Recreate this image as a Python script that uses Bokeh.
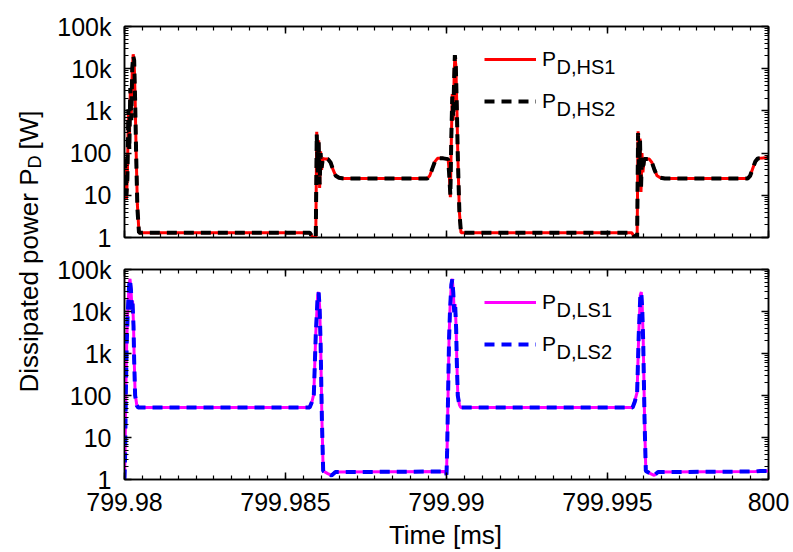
import numpy as np
from bokeh.plotting import figure
from bokeh.models import (FixedTicker, CustomJSTickFormatter, LinearAxis, LogAxis,
                          Legend, LegendItem, Label, Range1d)
from bokeh.layouts import row, column
from bokeh.embed import file_html
from bokeh.resources import INLINE

FONT = "Liberation Sans"

# ---------------- data ----------------
# Time in ms
t_hs1 = [799.98000, 799.98003, 799.98006, 799.98009, 799.98012, 799.98015, 799.98018, 799.98021,
         799.98024, 799.98027, 799.98030, 799.98033, 799.98036, 799.98040, 799.98045, 799.98575,
         799.98585, 799.98594, 799.98597, 799.98600, 799.98603, 799.98606, 799.98609, 799.98612,
         799.98616, 799.98622, 799.98632, 799.98640, 799.98648, 799.98656, 799.98666, 799.98680,
         799.98940, 799.98948, 799.98956, 799.98964, 799.98972, 799.98990, 799.99005, 799.99008,
         799.99012, 799.99015, 799.99018, 799.99021, 799.99024, 799.99026, 799.99029, 799.99032,
         799.99035, 799.99040, 799.99045, 799.99575, 799.99585, 799.99592, 799.99595, 799.99598,
         799.99601, 799.99604, 799.99607, 799.99610, 799.99614, 799.99620, 799.99630, 799.99638,
         799.99646, 799.99654, 799.99664, 799.99678, 799.99935, 799.99943, 799.99951, 799.99959,
         799.99967, 800.00000]
p_hs1 = [75, 45, 8, 30, 900, 150, 3000, 700,
         9000, 22000, 15000, 2000, 120, 6, 1.3, 1.3,
         1.0, 1.0, 320, 30, 200, 15, 110, 40,
         75, 72, 72, 60, 40, 29, 26, 25,
         25, 29, 43, 63, 75, 75, 72, 40,
         9, 200, 2500, 600, 8000, 20000, 12000, 1500,
         100, 4, 1.3, 1.3, 1.0, 1.0, 330, 25,
         220, 12, 100, 35, 75, 72, 72, 60,
         40, 29, 26, 25, 25, 29, 43, 63,
         75, 78]

t_hs2 = [799.98000, 799.98003, 799.98006, 799.98009, 799.98012, 799.98015, 799.98018, 799.98021,
         799.98024, 799.98027, 799.98030, 799.98033, 799.98036, 799.98040, 799.98045, 799.98575,
         799.98585, 799.98594, 799.98597, 799.98600, 799.98603, 799.98606, 799.98609, 799.98612,
         799.98616, 799.98622, 799.98632, 799.98640, 799.98648, 799.98656, 799.98666, 799.98680,
         799.98940, 799.98948, 799.98956, 799.98964, 799.98972, 799.98990, 799.99005, 799.99008,
         799.99012, 799.99015, 799.99018, 799.99021, 799.99024, 799.99026, 799.99029, 799.99032,
         799.99035, 799.99040, 799.99045, 799.99575, 799.99585, 799.99592, 799.99595, 799.99598,
         799.99601, 799.99604, 799.99607, 799.99610, 799.99614, 799.99620, 799.99630, 799.99638,
         799.99646, 799.99654, 799.99664, 799.99678, 799.99935, 799.99943, 799.99951, 799.99959,
         799.99967, 800.00000]
p_hs2 = [75, 40, 10, 25, 1100, 120, 3500, 600,
         10000, 20000, 16000, 1800, 110, 5, 1.3, 1.3,
         1.0, 1.0, 280, 35, 180, 18, 100, 45,
         72, 72, 72, 60, 40, 29, 26, 25,
         25, 29, 43, 63, 75, 75, 72, 35,
         10, 250, 2200, 700, 7000, 21000, 11000, 1300,
         90, 4, 1.3, 1.3, 1.0, 1.0, 300, 30,
         200, 14, 90, 40, 72, 72, 72, 60,
         40, 29, 26, 25, 25, 29, 43, 63,
         75, 78]

t_ls1 = [799.98000, 799.98002, 799.98004, 799.98007, 799.98010, 799.98014, 799.98017, 799.98020,
         799.98023, 799.98025, 799.98028, 799.98030, 799.98033, 799.98038, 799.98042, 799.98575,
         799.98582, 799.98588, 799.98594, 799.98600, 799.98603, 799.98606, 799.98609, 799.98613,
         799.98617, 799.98630, 799.98643, 799.98655, 799.98995, 799.99000, 799.99002, 799.99005,
         799.99008, 799.99011, 799.99015, 799.99018, 799.99021, 799.99024, 799.99027, 799.99030,
         799.99032, 799.99035, 799.99040, 799.99044, 799.99578, 799.99585, 799.99592, 799.99597,
         799.99602, 799.99605, 799.99608, 799.99611, 799.99615, 799.99619, 799.99632, 799.99645,
         799.99657, 799.99960, 799.99975, 800.00000]
p_ls1 = [1.0, 5, 110, 2000, 10000, 40000, 60000, 35000,
         12000, 18000, 5000, 800, 110, 60, 52, 52,
         70, 110, 3000, 25000, 29000, 13000, 2000, 30,
         1.6, 1.4, 1.25, 1.5, 1.55, 1.3, 6, 120,
         2500, 12000, 45000, 60000, 30000, 10000, 15000, 4000,
         700, 110, 60, 52, 52, 75, 120, 3000,
         25000, 29000, 12000, 2000, 30, 1.6, 1.4, 1.25,
         1.5, 1.55, 1.6, 1.6]

t_ls2 = list(t_ls1)
p_ls2 = [1.0, 4, 100, 1800, 9000, 38000, 58000, 33000,
         11000, 16000, 4500, 700, 100, 58, 52, 52,
         70, 105, 2800, 24000, 28000, 12000, 1800, 28,
         1.6, 1.4, 1.25, 1.5, 1.55, 1.3, 5, 110,
         2300, 11000, 43000, 58000, 28000, 9500, 14000, 3800,
         650, 100, 58, 52, 52, 72, 115, 2800,
         24000, 28000, 11000, 1800, 28, 1.6, 1.4, 1.25,
         1.5, 1.55, 1.6, 1.6]

# tick positions
X_MAJOR = [799.98, 799.985, 799.99, 799.995, 800.0]
X_MINOR = [799.98 + k * 0.005 / 9 for k in range(37)]
Y_MAJOR = [1, 10, 100, 1000, 10000, 100000]
Y_MINOR = [m * 10 ** e for e in range(5) for m in range(2, 10)]

X_FMT = CustomJSTickFormatter(code="return Number(tick.toFixed(3)).toString();")
Y_FMT = CustomJSTickFormatter(code="const v = Math.round(tick); return v >= 1000 ? (v/1000) + 'k' : String(v);")
NO_FMT = CustomJSTickFormatter(code="return '';")

LAB_W = 54          # width of the strip holding the shared y-axis title
PANEL_W = 793 - LAB_W
TOP_H = 253
BOT_H = 268
STRIP_H = 552 - TOP_H - BOT_H


def tick_style(ax):
    ax.major_tick_in = 7
    ax.major_tick_out = 0
    ax.minor_tick_in = 4
    ax.minor_tick_out = 0
    ax.axis_line_width = 1.5
    ax.axis_line_color = "black"
    ax.major_tick_line_width = 1.5
    ax.minor_tick_line_width = 1.2
    ax.major_tick_line_color = "black"
    ax.minor_tick_line_color = "black"
    ax.major_label_text_font = FONT
    ax.major_label_text_color = "black"


def hide_labels(ax):
    ax.formatter = NO_FMT
    ax.major_label_text_font_size = "1px"
    ax.major_label_standoff = 0


def make_panel(height, btop, bbottom, show_x):
    p = figure(width=PANEL_W, height=height, x_range=Range1d(799.98, 800.0),
               y_range=Range1d(1, 1e5), y_axis_type="log",
               x_axis_location=None, y_axis_location=None,
               output_backend="svg", toolbar_location=None,
               min_border_left=123 - LAB_W, min_border_right=25,
               min_border_top=btop, min_border_bottom=bbottom)
    p.grid.visible = False
    p.outline_line_color = "black"
    p.outline_line_width = 1.5
    p.background_fill_color = "white"
    p.border_fill_color = "white"

    xt = FixedTicker(ticks=X_MAJOR, minor_ticks=X_MINOR)
    yt = FixedTicker(ticks=Y_MAJOR, minor_ticks=Y_MINOR)

    bx = LinearAxis(ticker=xt, formatter=X_FMT)
    tick_style(bx)
    if show_x:
        bx.major_label_text_font_size = "25px"
        bx.major_label_standoff = 13
    else:
        hide_labels(bx)
    p.add_layout(bx, "below")

    tx = LinearAxis(ticker=xt)
    tick_style(tx)
    hide_labels(tx)
    p.add_layout(tx, "above")

    ly = LogAxis(ticker=yt, formatter=Y_FMT)
    tick_style(ly)
    ly.major_label_text_font_size = "25px"
    ly.major_label_standoff = 13
    p.add_layout(ly, "left")

    ry = LogAxis(ticker=yt)
    tick_style(ry)
    hide_labels(ry)
    p.add_layout(ry, "right")
    return p


def add_legend(p, r1, r2, vy, subs, sub_y):
    leg = Legend(items=[LegendItem(label="P", renderers=[r1]),
                        LegendItem(label="P", renderers=[r2])],
                 location=(360, vy), glyph_width=52, glyph_height=40, label_height=40,
                 label_standoff=6, spacing=2, padding=0, margin=0,
                 border_line_color=None, background_fill_alpha=0,
                 label_text_font=FONT, label_text_font_size="21px", label_text_color="black")
    p.add_layout(leg)
    for s, yy in zip(subs, sub_y):
        p.add_layout(Label(x=556 - LAB_W, y=yy, x_units="canvas", y_units="canvas", text=s,
                           text_font=FONT, text_font_size="20px", text_color="black",
                           text_baseline="alphabetic", text_align="left"))


def blank_strip(width, height, xr, yr):
    f = figure(width=width, height=height, x_range=xr, y_range=yr,
               x_axis_location=None, y_axis_location=None,
               output_backend="svg", toolbar_location=None, min_border=0)
    f.grid.visible = False
    f.outline_line_color = None
    f.border_fill_color = "white"
    f.background_fill_color = "white"
    return f


# ---------------- top panel ----------------
top = make_panel(TOP_H, 26, 16, False)
r_hs1 = top.line(t_hs1, p_hs1, line_color="#ff0000", line_width=3)
r_hs2 = top.line(t_hs2, p_hs2, line_color="black", line_width=4, line_dash="10 7")
add_legend(top, r_hs1, r_hs2, 116, ["D,HS1", "D,HS2"], [66, 108])

# ---------------- bottom panel ----------------
bot = make_panel(BOT_H, 16, BOT_H - 16 - 210, True)
r_ls1 = bot.line(t_ls1, p_ls1, line_color="#ff00ff", line_width=3)
r_ls2 = bot.line(t_ls2, p_ls2, line_color="#0000ff", line_width=4, line_dash="10 7")
add_legend(bot, r_ls1, r_ls2, 115, ["D,LS1", "D,LS2"], [56, 98])

# ---------------- shared x-axis title ----------------
xstrip = blank_strip(PANEL_W, STRIP_H, (0, 1), (0, 1))
xstrip.add_layout(Label(x=445 - LAB_W, y=13, x_units="canvas", y_units="canvas",
                        text="Time [ms]", text_font=FONT, text_font_size="26px",
                        text_color="black", text_align="center", text_baseline="alphabetic"))

# ---------------- shared y-axis title ----------------
lab = blank_strip(LAB_W, 552, (0, LAB_W), (0, 552))
for txt, xx, yy, fs in [("Dissipated power P", 28, 392, "26px"),
                        ("D", 34.5, 168, "18px"),
                        (" [W]", 28, 149, "26px")]:
    lab.add_layout(Label(x=xx, y=yy, x_units="canvas", y_units="canvas", text=txt,
                         angle=np.pi / 2, text_font=FONT, text_font_size=fs,
                         text_color="black", text_align="left", text_baseline="alphabetic"))

layout = row(lab, column(top, bot, xstrip))
open("out.html", "w").write(file_html(layout, INLINE))
